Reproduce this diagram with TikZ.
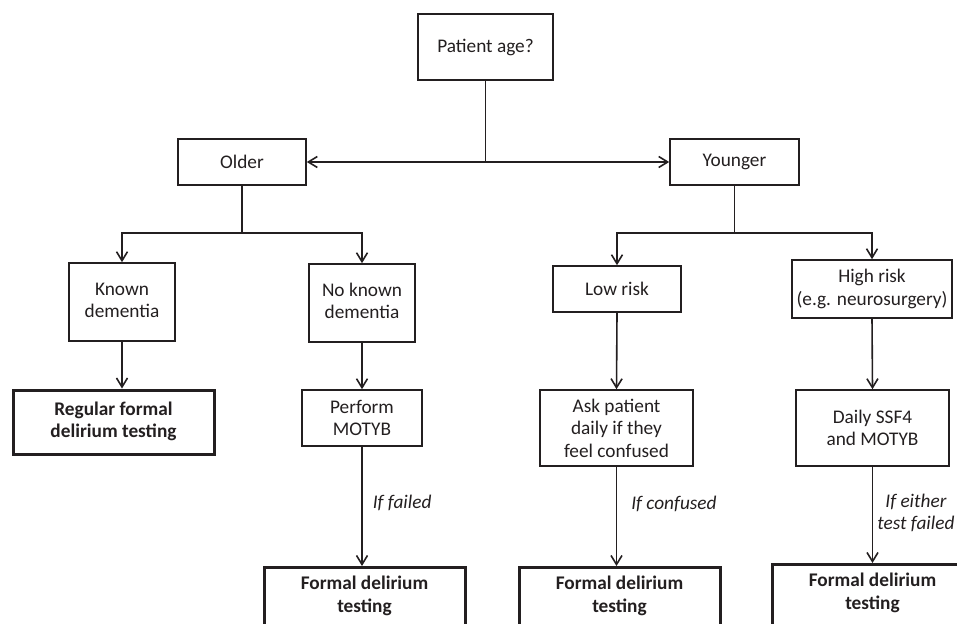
\documentclass[tikz,border=0pt]{standalone}
\usepackage{fontspec}
\setmainfont{Carlito}
\usetikzlibrary{arrows.meta}
\definecolor{ink}{HTML}{231F20}
\newcommand{\fsz}{\fontsize{19.3}{22.5}\selectfont}
\tikzset{
  box/.style={draw=ink, line width=1.6pt, text=ink, align=center, inner sep=0pt, font=\fsz},
  thickbox/.style={box, line width=3pt, font=\fsz\bfseries},
  txt/.style={text=ink, align=center, inner sep=0pt, font=\fsz},
  lbl/.style={text=ink, align=center, inner sep=0pt, font=\fontsize{19.3}{21.5}\selectfont\itshape},
  arr/.style={draw=ink, line width=1.6pt, -{Straight Barb[length=9pt,width=11pt,line width=1.6pt]}},
  ln/.style={draw=ink, line width=1.6pt},
}
\begin{document}
\begin{tikzpicture}[x=1pt,y=-1pt]
\useasboundingbox (0,0) rectangle (957,623);
\node[box, minimum width=135, minimum height=66] (pa) at (485.5,47) {\raisebox{2pt}{Patient age?}};
\node[box, minimum width=128, minimum height=46] (older) at (242,162) {Older};
\node[box, minimum width=129, minimum height=46] (younger) at (734.5,162) {Younger};
\node[box, minimum width=106, minimum height=78] (known) at (122,302) {\raisebox{3pt}{\begin{tabular}{@{}c@{}}Known\\dementia\end{tabular}}};
\node[box, minimum width=106, minimum height=78] (noknown) at (362,303) {\raisebox{3pt}{\begin{tabular}{@{}c@{}}No known\\dementia\end{tabular}}};
\node[box, minimum width=128, minimum height=46] (low) at (617,289) {Low risk};
\node[box, minimum width=160, minimum height=58] (high) at (872,289) {High risk\\(e.g. neurosurgery)};
\node[thickbox, minimum width=201, minimum height=64] (regular) at (113.5,422) {\raisebox{4pt}{\begin{tabular}{@{}c@{}}Regular formal\\delirium testing\end{tabular}}};
\node[box, minimum width=120, minimum height=56] (perform) at (362,418) {Perform\\MOTYB};
\node[box, minimum width=153, minimum height=76] (ask) at (616.5,428) {Ask patient\\daily if they\\feel confused};
\node[box, minimum width=153, minimum height=76] (daily) at (872.5,428) {Daily SSF4\\and MOTYB};
\node[thickbox, minimum width=201, minimum height=90, anchor=north] (f1) at (364.5,566) {};
\node[thickbox, minimum width=201, minimum height=90, anchor=north] (f2) at (619.5,566) {};
\node[thickbox, minimum width=201, minimum height=90, anchor=north] (f3) at (872.5,563) {};
\node[txt, font=\fsz\bfseries, anchor=north] (f1t) at ([yshift=-10pt]f1.north) {Formal delirium\\testing};
\node[txt, font=\fsz\bfseries, anchor=north] (f2t) at ([yshift=-10pt]f2.north) {Formal delirium\\testing};
\node[txt, font=\fsz\bfseries, anchor=north] (f3t) at ([yshift=-10pt]f3.north) {Formal delirium\\testing};
% connectors
\coordinate (pj) at (pa.south |- 0,162);
\draw[ln] (pa.south) -- (pj);
\draw[arr] (pj) -- (older.east);
\draw[arr] (pj) -- (younger.west);
\coordinate (oj) at (older.south |- 0,233);
\draw[ln] (older.south) -- (oj);
\draw[arr] (oj) -| (known.north);
\draw[arr] (oj) -| (noknown.north);
\coordinate (yj) at (younger.south |- 0,233);
\draw[ln] (younger.south) -- (yj);
\draw[arr] (yj) -| (low.north);
\draw[arr] (yj) -| (high.north);
\draw[arr] (known.south) -- (known.south |- regular.north);
\draw[arr] (noknown.south) -- (perform.north);
\draw[arr] (low.south) -- (ask.north);
\draw[arr] (high.south) -- (daily.north);
\draw[arr] (perform.south) -- (perform.south |- f1.north) node[lbl, pos=0.47, anchor=west, xshift=10pt] (l1) {If failed};
\draw[arr] (ask.south) -- (ask.south |- f2.north) node[lbl, pos=0.37, anchor=west, xshift=14pt] (l2) {If confused};
\draw[arr] (daily.south) -- (daily.south |- f3.north) node[lbl, pos=0.48, anchor=west, xshift=4pt] (l3) {If either\\test failed};
\end{tikzpicture}
\end{document}
